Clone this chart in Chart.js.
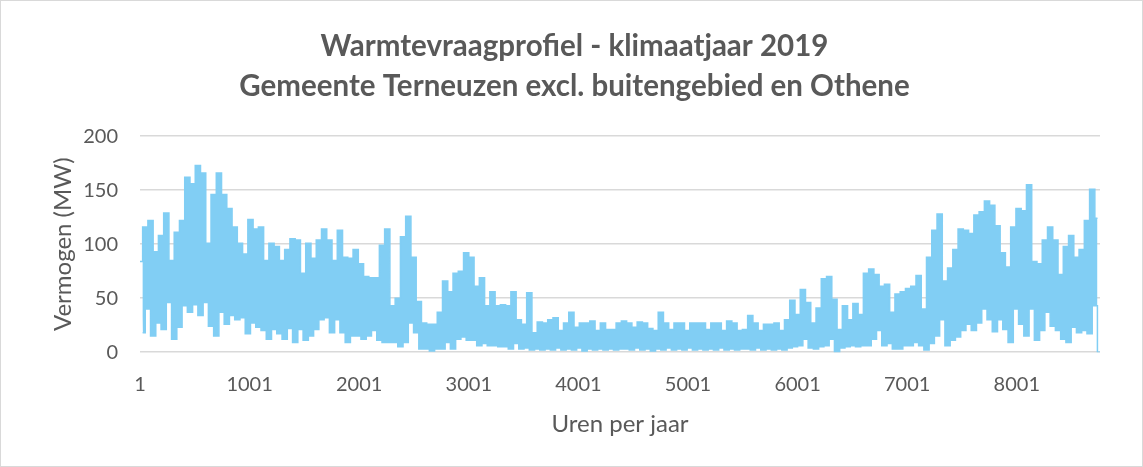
<!DOCTYPE html>
<html>
<head>
<meta charset="utf-8">
<script src="https://cdn.jsdelivr.net/npm/chart.js@4/dist/chart.umd.min.js"></script>
<style>
  body { margin: 0; background: #fff; }
  #kader { width: 1141px; height: 465px; border: 1px solid #d9d9d9; }
</style>
</head>
<body>
<div id="kader"><canvas id="warmteCanvas" width="1141" height="465"></canvas></div>
<script>
const hoog = [
  84, 116, 122, 93, 108, 129, 85, 111, 122, 162, 156, 173, 166, 101, 146, 166, 146, 133, 116, 101, 91, 123, 114,
  116, 85, 101, 98, 85, 95, 105, 104, 73, 101, 87, 104, 114, 104, 85, 113, 88, 87, 95, 82, 70, 69, 69,
  99, 114, 43, 50, 107, 126, 88, 47, 27, 26, 26, 37, 66, 56, 73, 75, 92, 88, 61, 69, 43, 56, 43,
  44, 43, 56, 30, 26, 55, 18, 28, 27, 30, 32, 20, 27, 37, 23, 27, 27, 29, 20, 27, 21, 21, 27,
  29, 27, 23, 28, 27, 22, 20, 37, 27, 21, 27, 27, 20, 27, 27, 27, 21, 27, 27, 20, 29, 27, 20,
  21, 34, 27, 20, 26, 26, 27, 20, 30, 48, 35, 58, 46, 27, 41, 68, 70, 49, 21, 43, 30, 45, 35,
  73, 77, 72, 61, 63, 37, 54, 56, 59, 61, 71, 40, 88, 113, 128, 66, 78, 95, 114, 113, 110, 127, 130,
  140, 136, 117, 92, 79, 116, 133, 131, 155, 84, 82, 104, 116, 104, 72, 98, 108, 88, 95, 122, 151, 124
];
const laag = [
  18, 40, 15, 27, 21, 46, 12, 23, 43, 37, 44, 34, 46, 24, 15, 37, 26, 34, 30, 32, 17, 27, 23,
  20, 12, 21, 17, 12, 22, 9, 21, 11, 15, 21, 30, 32, 18, 30, 18, 9, 15, 15, 12, 15, 20, 11,
  9, 9, 9, 5, 9, 27, 18, 3, 3, 1, 3, 3, 9, 3, 12, 14, 11, 11, 6, 8, 6, 6, 5,
  5, 3, 8, 3, 4, 2, 3, 2, 3, 2, 4, 2, 3, 2, 4, 1, 3, 2, 3, 2, 3, 2, 3,
  3, 2, 4, 2, 3, 1, 3, 2, 4, 2, 3, 2, 4, 2, 3, 2, 3, 2, 4, 2, 3, 2, 3,
  3, 2, 4, 2, 3, 2, 3, 2, 4, 5, 6, 12, 4, 3, 5, 6, 12, 0, 4, 5, 6, 5, 6,
  6, 12, 20, 6, 8, 3, 3, 6, 6, 9, 6, 2, 8, 15, 30, 6, 11, 14, 20, 26, 20, 27, 40,
  30, 19, 30, 21, 9, 40, 26, 15, 40, 11, 20, 37, 24, 20, 12, 9, 23, 18, 20, 17, 43, 0
];
const urenLabels = [1, 1001, 2001, 3001, 4001, 5001, 6001, 7001, 8001];
const vermogenLabels = [0, 50, 100, 150, 200];

const grijs = "#595959";
const blauw = "#81CEF4";

let hoogPunten = [];
let laagPunten = [];
for (let k = 0; k < hoog.length; k++) {
  hoogPunten.push({ x: 1 + 48 * k, y: hoog[k] });
  laagPunten.push({ x: Math.min(25 + 48 * k, 8760), y: laag[k] });
}

new Chart(document.getElementById("warmteCanvas"), {
  type: "line",
  data: {
    datasets: [
      {
        data: hoogPunten,
        borderColor: blauw,
        backgroundColor: blauw,
        borderWidth: 1.5,
        pointRadius: 0,
        stepped: "middle",
        fill: "+1",
      },
      {
        data: laagPunten,
        borderColor: blauw,
        borderWidth: 1.5,
        pointRadius: 0,
        stepped: "middle",
        fill: false,
      },
    ],
  },
  options: {
    responsive: false,
    animation: false,
    layout: { padding: { left: 48, right: 42, top: 0, bottom: 27 } },
    plugins: {
      legend: { display: false },
      tooltip: { enabled: false },
      title: {
        display: true,
        text: ["Warmtevraagprofiel - klimaatjaar 2019", "Gemeente Terneuzen excl. buitengebied en Othene"],
        color: grijs,
        font: { family: "Lato", size: 29.5, weight: "bold", lineHeight: 1.36 },
        padding: { top: 25, bottom: 30 },
      },
    },
    scales: {
      x: {
        type: "linear",
        min: 1,
        max: 8760,
        afterBuildTicks: (s) => {
          s.ticks = urenLabels.map((v) => ({ value: v }));
        },
        grid: { display: false, drawTicks: false },
        border: { display: false },
        ticks: {
          color: grijs,
          font: { family: "Lato", size: 20 },
          padding: 20,
          maxRotation: 0,
          autoSkip: false,
          callback: (v) => String(v),
        },
        title: {
          display: true,
          text: "Uren per jaar",
          color: grijs,
          font: { family: "Lato", size: 24 },
          padding: { top: -6, bottom: 0 },
        },
      },
      y: {
        min: 0,
        max: 200,
        afterBuildTicks: (s) => {
          s.ticks = vermogenLabels.map((v) => ({ value: v }));
        },
        afterFit: (s) => {
          s.width = 91;
        },
        grid: { color: "#d9d9d9", lineWidth: 1.5, drawTicks: false },
        border: { display: false },
        ticks: {
          color: grijs,
          font: { family: "Lato", size: 20 },
          padding: 22,
        },
        title: {
          display: true,
          text: "Vermogen (MW)",
          color: grijs,
          font: { family: "Lato", size: 24 },
          padding: { top: 0, bottom: 0 },
        },
      },
    },
  },
});
</script>
</body>
</html>
